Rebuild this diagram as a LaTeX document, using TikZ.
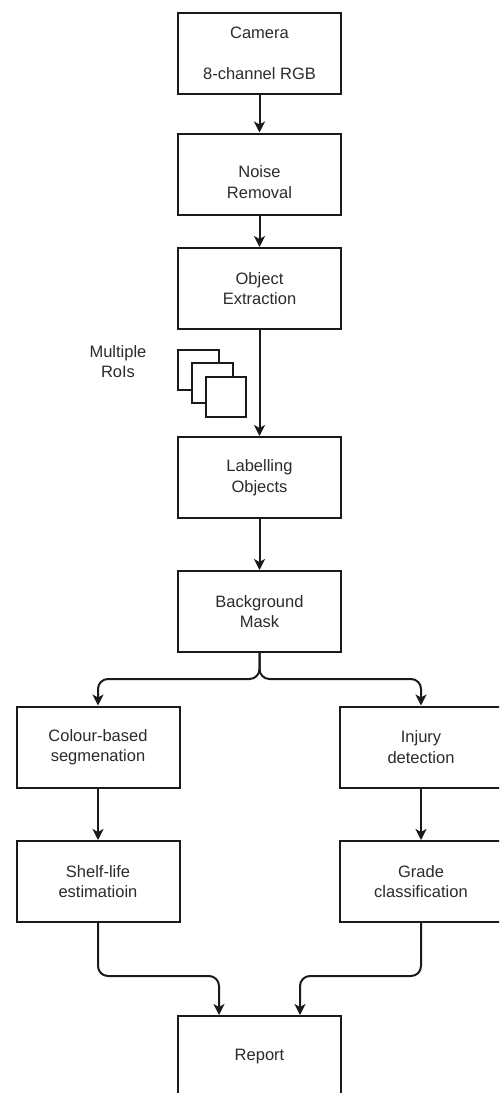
\documentclass[tikz,border=0pt]{standalone}
\usepackage{fontspec}
\setmainfont{Liberation Sans}
\usetikzlibrary{arrows.meta,calc}
\definecolor{txt}{HTML}{2B2B2B}
\definecolor{ln}{HTML}{1A1A1A}
\tikzset{
  box/.style={draw=ln,line width=2pt,fill=white,minimum width=163pt,minimum height=81pt,inner sep=0pt,align=center,text=txt,font=\fontsize{16.5}{20.5}\selectfont},
  conn/.style={draw=ln,line width=2pt,-{Stealth[length=11pt,width=11pt,inset=3pt]}},
  roi/.style={draw=ln,line width=2pt,fill=white},
  lbl/.style={text=txt,align=center,font=\fontsize{16.5}{20.5}\selectfont}
}
\begin{document}
\begin{tikzpicture}[x=1pt,y=-1pt]
\useasboundingbox (0,0) rectangle (499,1093);
\clip (0,0) rectangle (499,1093);
\fill[white] (0,0) rectangle (499,1093);
\node[box] (cam) at (259.5,53.5) {Camera\\[20.5pt]8-channel RGB};
\node[box,label={[lbl,yshift=-8pt]center:Noise\\Removal}] (noise) at (259.5,174) {};
\node[box] (obj) at (259.5,288.5) {Object\\Extraction};
\node[box] (lab) at (259.5,477.5) {Labelling\\Objects};
\node[box] (mask) at (259.5,611.5) {Background\\Mask};
\node[box] (col) at (98,747) {Colour-based\\segmenation};
\node[box] (inj) at (421,747) {Injury\\detection};
\node[box] (shelf) at (98,881.5) {Shelf-life\\estimatioin};
\node[box] (grade) at (421,881.5) {Grade\\classification};
\node[box] (rep) at (259.5,1056.5) {Report};
% RoIs
\node[lbl] (roitext) at (118,361.5) {Multiple\\RoIs};
\draw[roi] (178,350) rectangle (219,390);
\draw[roi] (192,363) rectangle (233,403);
\draw[roi] (206,377) rectangle (246,417);
% connectors
\draw[conn] (cam) -- (noise);
\draw[conn] (noise) -- (obj);
\draw[conn] (obj) -- (lab);
\draw[conn] (lab) -- (mask);
\draw[conn,rounded corners=10pt] (mask.south) |- (col.north |- 0,679) -- (col.north);
\draw[conn,rounded corners=10pt] (mask.south) |- (inj.north |- 0,679) -- (inj.north);
\draw[conn] (col) -- (shelf);
\draw[conn] (inj) -- (grade);
\coordinate (r1) at ([xshift=-40.5pt]rep.north);
\coordinate (r2) at ([xshift=40.5pt]rep.north);
\draw[conn,rounded corners=10pt] (shelf.south) |- (r1 |- 0,976) -- (r1);
\draw[conn,rounded corners=10pt] (grade.south) |- (r2 |- 0,976) -- (r2);
\end{tikzpicture}
\end{document}
